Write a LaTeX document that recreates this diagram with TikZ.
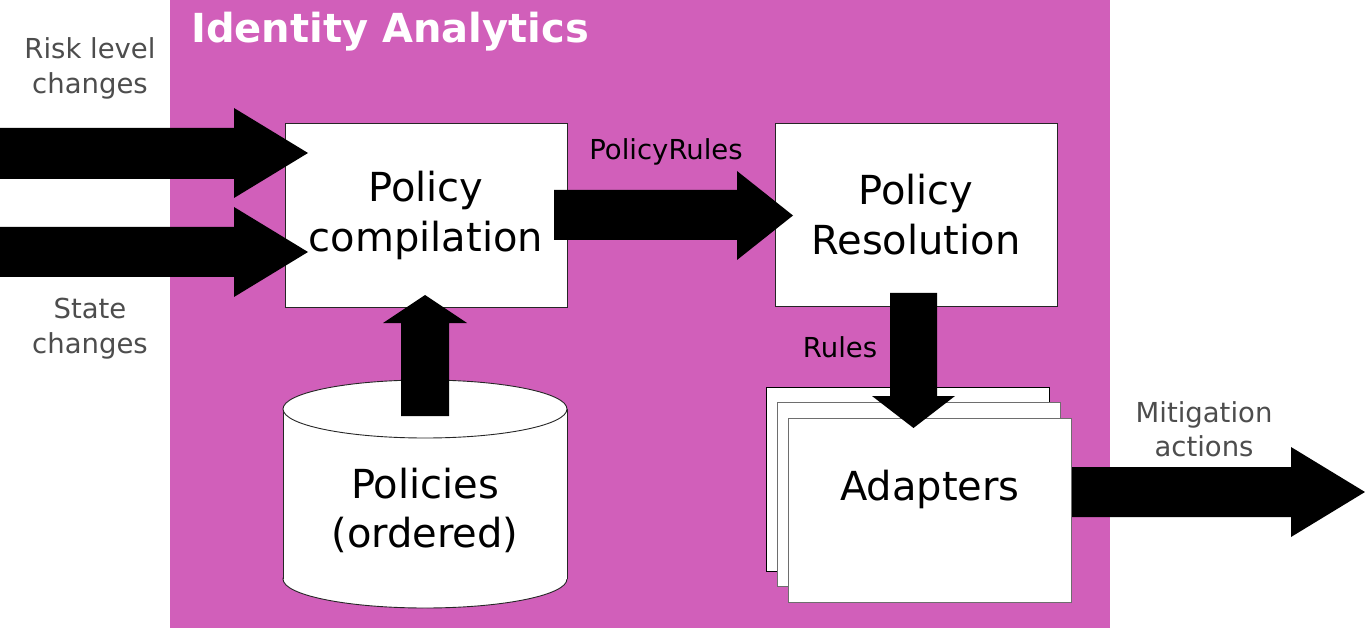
\documentclass[tikz,border=0pt]{standalone}
\usepackage{fontspec}
\setmainfont{DejaVu Sans}
\definecolor{panel}{RGB}{209,95,186}
\definecolor{labelgray}{RGB}{77,77,77}
\definecolor{edgegray}{RGB}{110,110,110}
\begin{document}
\begin{tikzpicture}[x=1pt,y=-1pt,
  box/.style={draw=black!85, line width=0.9pt, fill=white, inner sep=0pt, align=center,
              font=\fontsize{40}{50}\selectfont},
  stackbox/.style={draw=edgegray, line width=1pt, fill=white, inner sep=0pt,
              minimum width=283, minimum height=184},
  lbl/.style={text=labelgray, font=\fontsize{27.5}{34}\selectfont, inner sep=0pt, anchor=base},
  blbl/.style={text=black, font=\fontsize{27.5}{34}\selectfont, inner sep=0pt, anchor=base},
  bigtxt/.style={text=black, font=\fontsize{40}{50}\selectfont, inner sep=0pt, anchor=base},
  blk/.style={fill=black}]
\useasboundingbox (0,0) rectangle (1365,628);
% panel
\fill[panel] (170,0) rectangle (1110,628);
\node[anchor=base west, text=white, font=\fontsize{40}{48}\selectfont\bfseries, inner sep=0pt]
  (title) at (191,43) {Identity Analytics};
% outside labels
\node[lbl] (risk1) at (90,59) {Risk level};
\node[lbl] (risk2) at (90,94) {changes};
\node[lbl] (state1) at (90,318) {State};
\node[lbl] (state2) at (90,353) {changes};
\node[lbl] (mit1) at (1204,422) {Mitigation};
\node[lbl] (mit2) at (1204,456) {actions};
% boxes
\node[box, minimum width=282, minimum height=184] (pc) at (426,215) {Policy\\compilation};
\node[box, minimum width=282, minimum height=183.5] (pr) at (916,214.75) {Policy\\Resolution};
% adapters stack
\node[stackbox, draw=black] (ad3) at (907.75,479.5) {};
\node[stackbox] (ad2) at (919,494.5) {};
\node[stackbox] (ad1) at (930.25,510) {};
\node[bigtxt] (adtext) at (930,500) {Adapters};
% cylinder
\draw[black!85, line width=0.9pt, fill=white] (425,579) ellipse[x radius=142, y radius=29];
\fill[white] (283,409) rectangle (567,579);
\draw[black!85, line width=0.9pt] (283,409) -- (283,579) (567,409) -- (567,579);
\draw[black!85, line width=0.9pt, fill=white] (425,409) ellipse[x radius=142, y radius=29];
\node[bigtxt] (pol1) at (425,498) {Policies};
\node[bigtxt] (pol2) at (425,547) {(ordered)};
% edge labels
\node[blbl] (prlabel) at (666,160) {PolicyRules};
\node[blbl] (rlabel) at (840,357) {Rules};
% block arrows
\fill[blk] (0,128) -- (234,128) -- (234,108) -- (308,153) -- (234,198) -- (234,179) -- (0,179) -- cycle;
\fill[blk] (0,227) -- (234,227) -- (234,207) -- (308,252) -- (234,297) -- (234,277) -- (0,277) -- cycle;
\fill[blk] (554,190) -- (737,190) -- (737,171) -- (793,215.5) -- (737,260) -- (737,240) -- (554,240) -- cycle;
\fill[blk] (401,416) -- (401,323) -- (383,323) -- (425,295) -- (467,323) -- (449,323) -- (449,416) -- cycle;
\fill[blk] (890,293) -- (937,293) -- (937,396) -- (955,396) -- (913.5,428) -- (872,396) -- (890,396) -- cycle;
\fill[blk] (1072,467) -- (1291,467) -- (1291,447) -- (1365,492) -- (1291,537) -- (1291,517) -- (1072,517) -- cycle;
\end{tikzpicture}
\end{document}
